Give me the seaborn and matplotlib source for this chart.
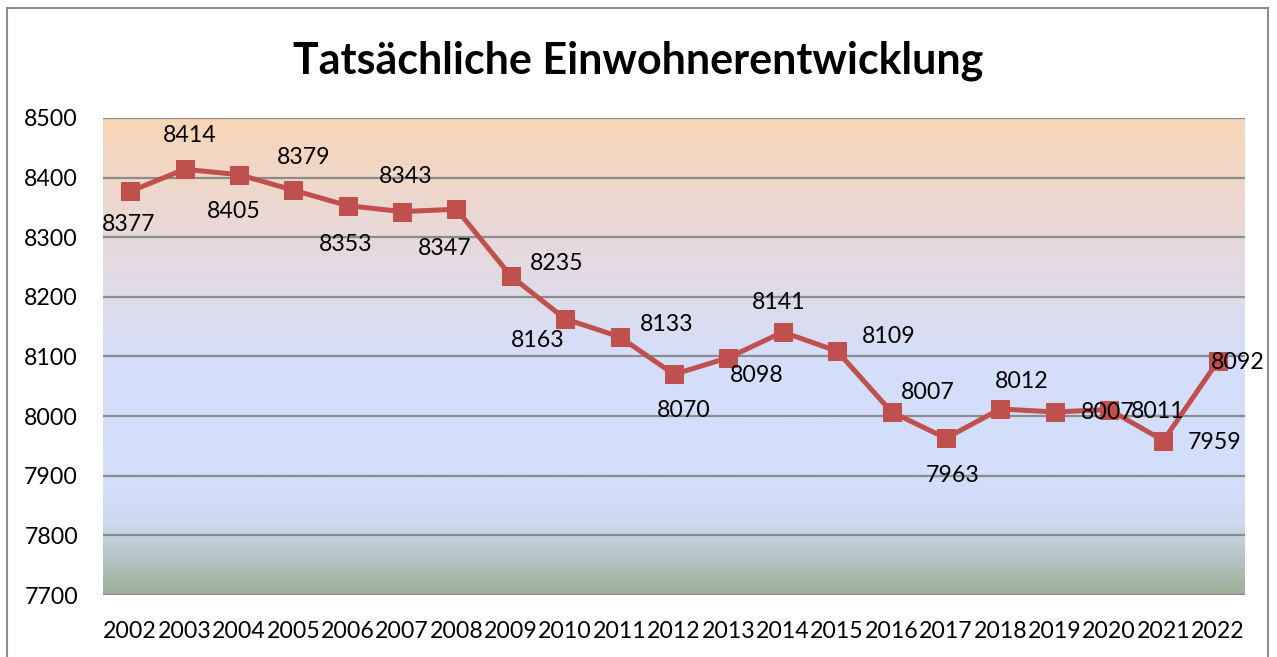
import numpy as np
import pandas as pd
import matplotlib
matplotlib.use("Agg")
import matplotlib.pyplot as plt
import seaborn as sns
from matplotlib.colors import LinearSegmentedColormap
from matplotlib.patches import Rectangle

# chart data
years = list(range(2002, 2023))
einwohner = [8377, 8414, 8405, 8379, 8353, 8343, 8347, 8235, 8163, 8133, 8070,
             8098, 8141, 8109, 8007, 7963, 8012, 8007, 8011, 7959, 8092]
y_ticks = [7700, 7800, 7900, 8000, 8100, 8200, 8300, 8400, 8500]
title = "Tatsächliche Einwohnerentwicklung"

# label offsets in pixels (dx right, dy down) - layout only
label_offsets = [(-2, 33), (5, -34), (-5, 37), (10, -33), (-2, 39), (4, -35),
                 (-12, 39), (46, -13), (-28, 22), (47, -12), (10, 36), (28, 18),
                 (-4, -30), (52, -15), (36, -19), (7, 37), (21, -27), (53, 1),
                 (49, 2), (51, 2), (20, 1)]

sns.set_theme(style="white")
plt.rcParams["font.family"] = ["Lato", "DejaVu Sans"]
plt.rcParams["text.color"] = "black"
plt.rcParams["xtick.color"] = "black"
plt.rcParams["ytick.color"] = "black"

df = pd.DataFrame({"Jahr": years, "Einwohner": einwohner})

fig = plt.figure(figsize=(12.77, 6.57), dpi=100)
ax = fig.add_axes([103 / 1277, 1 - 595 / 657, 1142 / 1277, 477 / 657])

x_lo, x_hi = years[0] - 0.5, years[-1] + 0.5
y_lo, y_hi = y_ticks[0], y_ticks[-1]

# background gradient (bottom -> top)
stops = [
    (0.00, (156 / 255, 176 / 255, 152 / 255)),
    (0.15, (205 / 255, 217 / 255, 240 / 255)),
    (0.22, (211 / 255, 222 / 255, 250 / 255)),
    (0.50, (213 / 255, 222 / 255, 250 / 255)),
    (0.75, (232 / 255, 217 / 255, 218 / 255)),
    (1.00, (248 / 255, 213 / 255, 182 / 255)),
]
cmap = LinearSegmentedColormap.from_list("bg", stops)
grad = np.linspace(0, 1, 256).reshape(-1, 1)
ax.imshow(grad, cmap=cmap, origin="lower", aspect="auto",
          extent=(x_lo, x_hi, y_lo, y_hi), zorder=0)

for t in y_ticks:
    ax.axhline(t, color="#8c8c8c", lw=1.6, zorder=1)

sns.lineplot(data=df, x="Jahr", y="Einwohner", ax=ax, color="#C0504D",
             lw=3.6, marker="s", markersize=13, markeredgecolor="#C0504D",
             zorder=3)

fs = 16.7
for yr, v, (dx, dy) in zip(years, einwohner, label_offsets):
    ax.annotate(str(v), (yr, v), xytext=(dx, -dy), textcoords="offset pixels",
                ha="center", va="center", fontsize=fs, color="black", zorder=4)

ax.set_xlim(x_lo, x_hi)
ax.set_ylim(y_lo, y_hi)
ax.set_xticks(years)
ax.set_xticklabels([str(y) for y in years], fontsize=fs)
ax.set_yticks(y_ticks)
ax.set_yticklabels([str(t) for t in y_ticks], fontsize=fs)
ax.tick_params(axis="x", pad=19, length=0)
ax.tick_params(axis="y", pad=18, length=0)
for s in ax.spines.values():
    s.set_visible(False)
ax.set_xlabel("")
ax.set_ylabel("")

fig.text(0.5, 1 - 61 / 657, title, ha="center", va="center",
         fontsize=31, fontweight="bold", color="black")

# outer chart border
fig.patches.append(Rectangle((7 / 1277, -0.05), 1261 / 1277, 1.05 - 8 / 657,
                             transform=fig.transFigure, fill=False,
                             edgecolor="#8c8c8c", lw=1.5))

fig.savefig("out.png", dpi=100)
